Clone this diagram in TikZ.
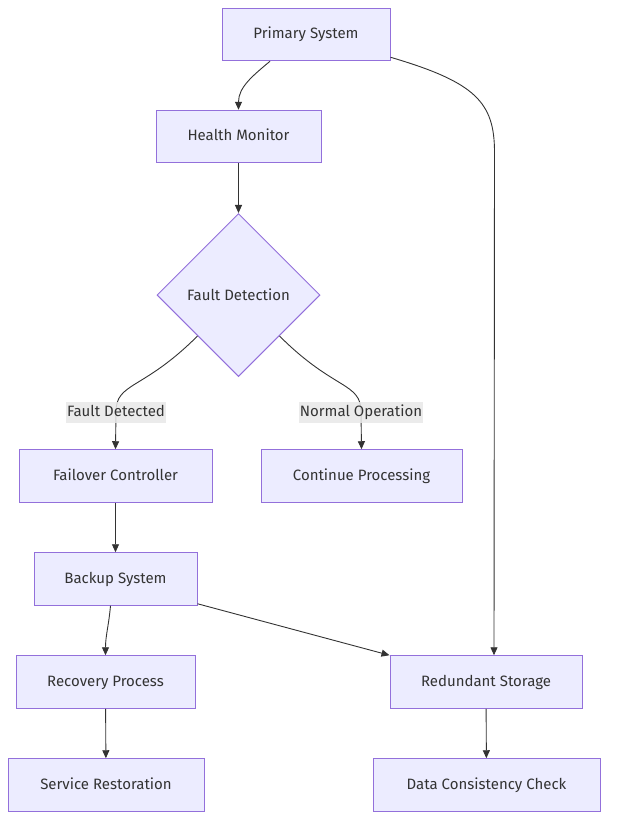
\documentclass[tikz,border=0pt]{standalone}
\usepackage{fontspec}
\setmainfont{Fira Sans}
\usetikzlibrary{shapes.geometric,arrows.meta}
\definecolor{boxfill}{HTML}{ECECFF}
\definecolor{boxline}{HTML}{9370DB}
\definecolor{txt}{HTML}{333333}
\definecolor{edge}{HTML}{333333}
\definecolor{lblfill}{HTML}{E8E8E8}
\begin{document}
\begin{tikzpicture}
	[x=1pt, y=1pt, every node/.style={font=\fontsize{15}{17}\selectfont},
	box/.style={draw=boxline, fill=boxfill, line width=1pt, minimum height=52.5pt, text=txt, inner sep=0pt, text height=11pt, text depth=3pt},
	diam/.style={diamond, draw=boxline, fill=boxfill, line width=1pt, minimum width=163pt, minimum height=163pt, inner sep=0pt, text=txt},
	lbl/.style={fill=lblfill, text=txt, inner xsep=1pt, inner ysep=0pt, minimum height=21pt, text height=11pt, text depth=3pt, fill opacity=0.85, text opacity=1},
	arr/.style={draw=edge, line width=0.9pt, -{Triangle[length=8pt,width=7pt]}}]
	\useasboundingbox (0,0) rectangle (616,-830);
	\node[box, minimum width=168pt] (prim) at (306,-34.5) {Primary System};
	\node[box, minimum width=165pt] (hm) at (238.5,-136.5) {Health Monitor};
	\node[diam] (fd) at (238.5,-295) {Fault Detection};
	\node[box, minimum width=193pt] (fc) at (115.5,-476) {Failover Controller};
	\node[box, minimum width=201pt] (cp) at (361.5,-476) {Continue Processing};
	\node[box, minimum width=163pt] (bs) at (115.5,-579) {Backup System};
	\node[box, minimum width=179pt] (rp) at (105.5,-682) {Recovery Process};
	\node[box, minimum width=192pt] (rs) at (486,-682) {Redundant Storage};
	\node[box, minimum width=196pt] (sr) at (106,-785) {Service Restoration};
	\node[box, minimum width=227pt] (dc) at (486.5,-785) {Data Consistency Check};
	\coordinate (lf) at (116,-412);
	\coordinate (ln) at (361,-412);
	\draw[arr] ([xshift=-36pt]prim.south) to[out=-140,in=90] (hm.north);
	\draw[arr] ([yshift=4pt]prim.south east) .. controls +(85,-25) and +(0,50) .. ++(104,-95) -- ([xshift=8pt]rs.north);
	\draw[arr] (hm) -- (fd);
	\draw[arr] (fd.south west) .. controls +(-55,-55) and +(0,30) .. (lf) -- (fc.north);
	\draw[arr] (fd.south east) .. controls +(55,-55) and +(0,30) .. (ln) -- (cp.north);
	\node[lbl] (lblfault) at (lf) {Fault Detected};
	\node[lbl] (lblnormal) at (ln) {Normal Operation};
	\draw[arr] (fc) -- (bs);
	\draw[arr] ([xshift=-5pt]bs.south) to[out=-95,in=90] (rp.north);
	\draw[arr] ([yshift=2pt]bs.south east) -- (rs.north west);
	\draw[arr] (rp) -- (sr);
	\draw[arr] (rs) -- (dc);
\end{tikzpicture}
\end{document}
